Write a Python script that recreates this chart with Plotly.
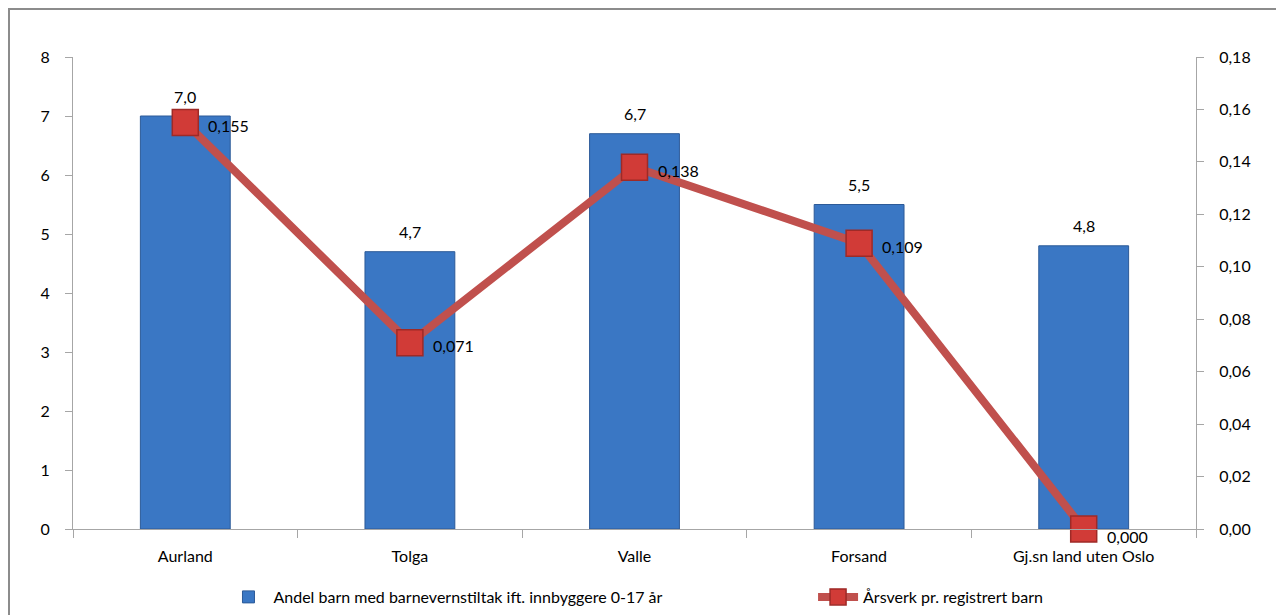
import plotly.graph_objects as go

categories = ["Aurland", "Tolga", "Valle", "Forsand", "Gj.sn land uten Oslo"]
andel_barn = [7.0, 4.7, 6.7, 5.5, 4.8]
arsverk = [0.155, 0.071, 0.138, 0.109, 0.000]
left_ticks = [0, 1, 2, 3, 4, 5, 6, 7, 8]
right_ticks = [0, 0.02, 0.04, 0.06, 0.08, 0.10, 0.12, 0.14, 0.16, 0.18]

FONT = "Lato, 'Open Sans', sans-serif"
AX = "#a6a6a6"
FS = 16

fig = go.Figure()
fig.add_trace(go.Bar(
    x=categories, y=andel_barn,
    name="Andel barn med barnevernstiltak ift. innbyggere 0-17 år",
    marker=dict(color="#3a77c4", line=dict(color="#2c5a98", width=1)),
    width=0.4, legend="legend",
))
fig.add_trace(go.Scatter(
    x=categories, y=arsverk, yaxis="y2",
    name="Årsverk pr. registrert barn",
    mode="lines+markers",
    line=dict(color="#c0504d", width=8),
    marker=dict(symbol="square", size=26, color="#d13b37", line=dict(color="#9e2a27", width=1.5)),
    cliponaxis=False, legend="legend2",
))

annotations = []
for c, v in zip(categories, andel_barn):
    annotations.append(dict(x=c, y=v, xref="x", yref="y", text=f"{v:.1f}".replace(".", ","),
                            showarrow=False, yshift=20, yanchor="middle",
                            font=dict(size=FS, color="#000000", family=FONT)))
for c, v in zip(categories, arsverk):
    annotations.append(dict(x=c, y=v, xref="x", yref="y2", text=f"{v:.3f}".replace(".", ","),
                            showarrow=False, xshift=21, yshift=-3 if v > 0 else -7,
                            xanchor="left", yanchor="middle",
                            font=dict(size=FS, color="#000000", family=FONT)))

fig.update_layout(
    width=1284, height=615,
    margin=dict(l=65, r=96, t=49, b=94),
    paper_bgcolor="white", plot_bgcolor="white",
    font=dict(family=FONT, size=FS, color="#000000"),
    separators=",.",
    showlegend=True,
    legend=dict(orientation="h", x=0.134, xanchor="left", yref="container", y=0.0423, yanchor="middle",
                font=dict(size=FS), itemwidth=40, bgcolor="rgba(0,0,0,0)"),
    legend2=dict(orientation="h", x=0.659, xanchor="left", yref="container", y=0.0423, yanchor="middle",
                 font=dict(size=FS), itemwidth=40, bgcolor="rgba(0,0,0,0)"),
    xaxis=dict(showgrid=False, showline=True, linecolor=AX, linewidth=1,
               ticks="outside", ticklen=8, tickcolor=AX, tickson="boundaries",
               tickfont=dict(size=FS), ticklabelstandoff=13),
    yaxis=dict(range=[0, 8], tickvals=left_ticks, showgrid=False, zeroline=False,
               showline=True, linecolor=AX, linewidth=1,
               ticks="outside", ticklen=7, tickcolor=AX,
               tickfont=dict(size=FS), ticklabelstandoff=12),
    yaxis2=dict(range=[0, 0.18], tickvals=right_ticks, overlaying="y", side="right",
                showgrid=False, zeroline=False, showline=True, linecolor=AX,
                linewidth=1, ticks="outside", ticklen=7, tickcolor=AX,
                tickformat=".2f", tickfont=dict(size=FS), ticklabelstandoff=12),
    annotations=annotations,
    shapes=[dict(type="rect", xref="paper", yref="paper",
                 x0=-0.057, x1=1.2, y0=-0.3, y1=1.1017,
                 line=dict(color="#8c8c8c", width=2), fillcolor="rgba(0,0,0,0)", layer="below")],
)

fig.write_html("out.html")
